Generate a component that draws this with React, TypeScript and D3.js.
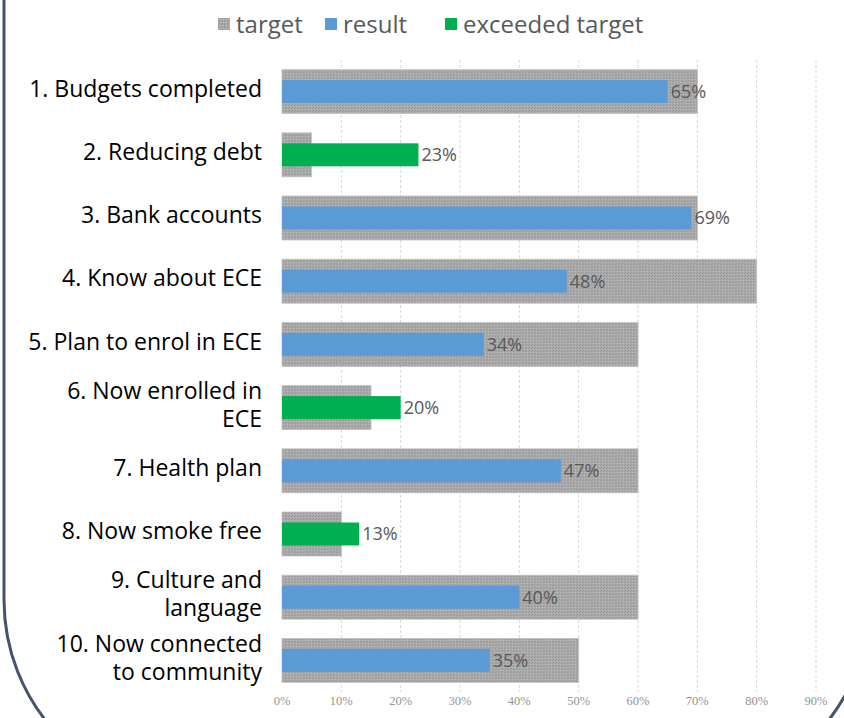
import React, { useEffect, useRef } from "react";
import * as d3 from "d3";

const categories = [
	["1. Budgets completed"],
	["2. Reducing debt"],
	["3. Bank accounts"],
	["4. Know about ECE"],
	["5. Plan to enrol in ECE"],
	["6. Now enrolled in", "ECE"],
	["7. Health plan"],
	["8. Now smoke free"],
	["9. Culture and", "language"],
	["10. Now connected", "to community"],
];
const targets = [0.7, 0.05, 0.7, 0.8, 0.6, 0.15, 0.6, 0.1, 0.6, 0.5];
const results = [0.65, 0.23, 0.69, 0.48, 0.34, 0.2, 0.47, 0.13, 0.4, 0.35];
const ticks = [0, 0.1, 0.2, 0.3, 0.4, 0.5, 0.6, 0.7, 0.8, 0.9];
const legendItems = [
	{ label: "target", color: "#a6a6a6" },
	{ label: "result", color: "#5b9bd5" },
	{ label: "exceeded target", color: "#00b050" },
];

const W = 844,
	H = 718;
const FONT = "'Open Sans', sans-serif";

function draw(ref: SVGSVGElement | null) {
	if (!ref) return;
	const svg = d3.select(ref);
	svg.selectAll("*").remove();

	// texture for the target bars
	const pat = svg
		.append("defs")
		.append("pattern")
		.attr("id", "tex")
		.attr("width", 3)
		.attr("height", 3)
		.attr("patternUnits", "userSpaceOnUse");
	pat.append("rect").attr("width", 3).attr("height", 3).attr("fill", "#a9a9a9");
	pat.append("rect").attr("width", 1).attr("height", 1).attr("fill", "#969696");
	pat.append("rect").attr("x", 2).attr("y", 1).attr("width", 1).attr("height", 1).attr("fill", "#bbbbbb");
	pat.append("rect").attr("x", 1).attr("y", 2).attr("width", 1).attr("height", 1).attr("fill", "#9c9c9c");

	const x = d3.scaleLinear().domain([0, 0.9]).range([282, 816]);
	const y = d3
		.scaleBand<number>()
		.domain(d3.range(categories.length))
		.range([60, 692]);
	const step = y.bandwidth();
	const center = (i: number) => (y(i) as number) + step / 2;

	// gridlines
	svg.append("g")
		.selectAll("line")
		.data(ticks.slice(1))
		.join("line")
		.attr("x1", (d) => x(d))
		.attr("x2", (d) => x(d))
		.attr("y1", 60)
		.attr("y2", 692)
		.attr("stroke", "#d9d9d9")
		.attr("stroke-width", 1)
		.attr("stroke-dasharray", "3,2");

	// tick labels
	svg.append("g")
		.selectAll("text")
		.data(ticks)
		.join("text")
		.attr("x", (d) => x(d))
		.attr("y", 705)
		.attr("text-anchor", "middle")
		.attr("font-family", "'Liberation Serif', serif")
		.attr("font-size", 12.5)
		.attr("fill", "#959595")
		.text((d) => d3.format(".0%")(d));

	// target bars
	svg.append("g")
		.selectAll("rect")
		.data(targets)
		.join("rect")
		.attr("x", x(0))
		.attr("y", (_, i) => center(i) - 22)
		.attr("width", (d) => x(d) - x(0))
		.attr("height", 44)
		.attr("fill", "url(#tex)")
		.attr("stroke", "#c4c4c4")
		.attr("stroke-width", 0.8);

	// result bars
	svg.append("g")
		.selectAll("rect")
		.data(results)
		.join("rect")
		.attr("x", x(0))
		.attr("y", (_, i) => center(i) - 11.5)
		.attr("width", (d) => x(d) - x(0))
		.attr("height", 23)
		.attr("fill", (d, i) => (d > targets[i] ? "#00b050" : "#5b9bd5"));

	// value labels
	svg.append("g")
		.selectAll("text")
		.data(results)
		.join("text")
		.attr("x", (d) => x(d) + 3)
		.attr("y", (_, i) => center(i))
		.attr("dy", "0.36em")
		.attr("font-family", FONT)
		.attr("font-size", 18)
		.attr("fill", "#595959")
		.text((d) => d3.format(".0%")(d));

	// category labels
	const cat = svg
		.append("g")
		.selectAll("text")
		.data(categories)
		.join("text")
		.attr("text-anchor", "end")
		.attr("font-family", FONT)
		.attr("font-size", 23)
		.attr("fill", "#000");
	cat.each(function (lines, i) {
		const t = d3.select(this);
		lines.forEach((ln, j) => {
			t.append("tspan")
				.attr("x", 262)
				.attr("y", center(i) - 3 + (j - (lines.length - 1) / 2) * 28)
				.attr("dy", "0.36em")
				.text(ln);
		});
	});

	// legend
	const legendX = [218, 325, 445];
	const lg = svg
		.append("g")
		.selectAll("g")
		.data(legendItems)
		.join("g")
		.attr("transform", (_, i) => `translate(${legendX[i]}, 24)`);
	lg.append("rect")
		.attr("y", -6)
		.attr("width", 12)
		.attr("height", 12)
		.attr("fill", (d, i) => (i === 0 ? "url(#tex)" : d.color));
	lg.append("text")
		.attr("x", 18)
		.attr("dy", "0.36em")
		.attr("font-family", FONT)
		.attr("font-size", 24)
		.attr("fill", "#595959")
		.text((d) => d.label);

	// rounded frame
	const r = 195;
	svg.append("path")
		.attr(
			"d",
			`M4,-10 L4,600 A${r},${r} 0 0 0 ${4 + r},${600 + r} L${870 - r},${600 + r} A${r},${r} 0 0 0 870,600 L870,-10`
		)
		.attr("fill", "none")
		.attr("stroke", "#44546a")
		.attr("stroke-width", 3);
}

export default function App() {
	const ref = useRef<SVGSVGElement>(null);
	useEffect(() => {
		draw(ref.current);
	}, []);
	return (
		<svg
			ref={ref}
			width={W}
			height={H}
			style={{ position: "absolute", left: 0, top: 0, background: "#fff" }}
		/>
	);
}
